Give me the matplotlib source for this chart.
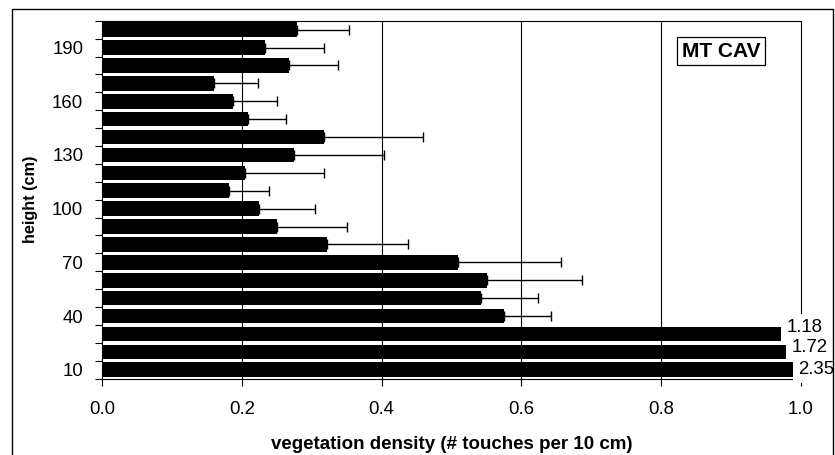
import numpy as np
import matplotlib
matplotlib.use('Agg')
import matplotlib.pyplot as plt
from matplotlib.patches import Rectangle

plt.rcParams['font.family'] = ['Liberation Sans', 'DejaVu Sans']

# alturas (cm) y densidad de vegetacion
heights = [10, 20, 30, 40, 50, 60, 70, 80, 90, 100,
           110, 120, 130, 140, 150, 160, 170, 180, 190, 200]
density = [2.35, 1.72, 1.18, 0.575, 0.542, 0.551, 0.509, 0.322, 0.251, 0.225,
           0.182, 0.204, 0.275, 0.317, 0.209, 0.188, 0.160, 0.268, 0.233, 0.279]
err_plus = [0, 0, 0, 0.068, 0.081, 0.136, 0.147, 0.116, 0.100, 0.079,
            0.057, 0.114, 0.128, 0.142, 0.054, 0.062, 0.063, 0.069, 0.085, 0.075]
ytick_labels = [10, 40, 70, 100, 130, 160, 190]

# barras recortadas en 1.0: etiqueta con el valor real
clipped_h = [30, 20, 10]
clipped_txt = ['1.18', '1.72', '2.35']

fig = plt.figure(figsize=(8.35, 4.55), dpi=100)
ax = fig.add_axes([0.1222, 0.1677, 0.8371, 0.7868])

# marco exterior del grafico
fig.patches.append(Rectangle((12 / 835, -0.02), (833 - 12) / 835, 1.02 - 9 / 455,
                             transform=fig.transFigure, fill=False,
                             edgecolor='black', linewidth=1.0))

ax.barh(heights, density, height=8.2, color='black', zorder=2)
ax.errorbar(density, heights, xerr=[np.zeros(len(err_plus)), err_plus],
            fmt='none', ecolor='black', elinewidth=1.0, capsize=3.6,
            capthick=1.0, zorder=3)

ax.set_xlim(0, 1.0)
ax.set_ylim(5, 205)

# rejilla vertical
for gx in [0.2, 0.4, 0.6, 0.8]:
    ax.axvline(gx, color='black', linewidth=0.8, zorder=1)

ax.set_xticks([0.0, 0.2, 0.4, 0.6, 0.8, 1.0])
ax.set_xticklabels(['0.0', '0.2', '0.4', '0.6', '0.8', '1.0'], fontsize=13.4)
ax.tick_params(axis='x', direction='out', length=5, width=0.8, pad=11)

# marcas entre categorias, etiquetas centradas en la barra
ax.set_yticks(np.arange(5, 206, 10))
ax.set_yticklabels([])
ax.tick_params(axis='y', which='major', direction='out', length=5, width=0.8)
ax.set_yticks(ytick_labels, minor=True)
ax.set_yticklabels([str(v) for v in ytick_labels], minor=True, fontsize=13.4)
ax.tick_params(axis='y', which='minor', length=0, pad=13.5)

for sp in ax.spines.values():
    sp.set_linewidth(0.8)
    sp.set_color('black')

for i, (h, txt) in enumerate(zip(clipped_h, clipped_txt)):
    x0 = [0.979, 0.986, 0.996][i]
    dy = [3.6, 2.2, 0.0][i]
    ax.text(x0, h + dy, txt, fontsize=13.4, ha='left', va='center', zorder=5,
            bbox=dict(facecolor='white', edgecolor='none', pad=3.5),
            clip_on=False)

ax.text(0.886, 0.915, 'MT CAV', transform=ax.transAxes, fontsize=15,
        fontweight='bold', ha='center', va='center',
        bbox=dict(facecolor='white', edgecolor='black', linewidth=0.9,
                  boxstyle='square,pad=0.22'))

ax.set_xlabel('vegetation density (# touches per 10 cm)', fontsize=13.5,
              fontweight='bold', labelpad=13)
ax.set_ylabel('height (cm)', fontsize=11.7, fontweight='bold', labelpad=10)

fig.savefig('out.png', dpi=100)
